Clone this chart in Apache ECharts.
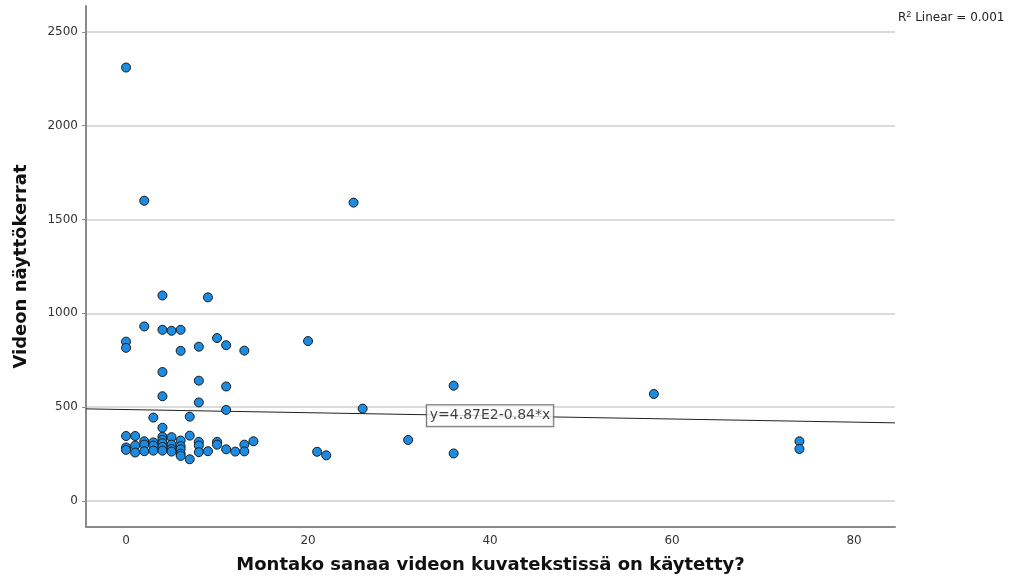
<!DOCTYPE html>
<html>
<head>
<meta charset="utf-8">
<script src="https://cdn.jsdelivr.net/npm/echarts@6/dist/echarts.min.js"></script>
<style>html,body{margin:0;padding:0;background:#fff}#c{width:1015px;height:587px}</style>
</head>
<body>
<div id="c"></div>
<script>
// Words in caption (x) and video views (y)
const wordsX = [
  0, 2, 25, 4, 9, 2, 4, 5, 6, 10, 0, 0, 8, 11, 6, 13, 20,
  4, 8, 11, 4, 8, 11, 26, 36, 58, 31, 36, 21, 22, 74, 74, 3, 7,
  0, 0, 0,
  1, 1, 1,
  2, 2, 2,
  3, 3, 3,
  4, 4, 4, 4, 4, 4,
  5, 5, 5, 5,
  6, 6, 6, 6, 6,
  7, 7,
  8, 8, 8,
  9,
  10, 10,
  11,
  12,
  13, 13,
  14
];
const viewsY = [
  2310, 1600, 1590, 1095, 1085, 930, 912, 907, 912, 868, 849, 816, 822, 830, 800, 801, 852,
  687, 641, 610, 558, 525, 485, 492, 614, 570, 325, 253, 262, 243, 318, 277, 444, 449,
  346, 285, 272,
  346, 295, 258,
  318, 300, 265,
  312, 295, 268,
  390, 342, 325, 308, 288, 268,
  340, 300, 276, 263,
  322, 292, 275, 252, 240,
  348, 222,
  315, 295, 260,
  265,
  315, 300,
  275,
  263,
  300, 264,
  318
];
const yTicks = [0, 500, 1000, 1500, 2000, 2500];
const xTicks = [0, 20, 40, 60, 80];
const fitIntercept = 487;
const fitSlope = -0.84;
const fitLabel = 'y=4.87E2-0.84*x';
const fitLabelX = 40;
const xMin = -4.4, xMax = 84.5, yMin = -139, yMax = 2638;

const pts = wordsX.map((x, i) => [x, viewsY[i]]);
const fitPts = [xMin, xMax].map(x => [x, fitIntercept + fitSlope * x]);

const FONT = '"DejaVu Sans", "Liberation Sans", sans-serif';
const chart = echarts.init(document.getElementById('c'));
chart.setOption({
  animation: false,
  backgroundColor: '#fff',
  textStyle: { fontFamily: FONT },
  grid: { left: 86, right: 120, top: 6, bottom: 60 },
  xAxis: {
    type: 'value', min: xMin, max: xMax,
    name: 'Montako sanaa videon kuvatekstissä on käytetty?',
    nameLocation: 'middle', nameGap: 29,
    nameTextStyle: { fontSize: 18, fontWeight: 'bold', color: '#111', fontFamily: FONT },
    axisLine: { show: true, onZero: false, lineStyle: { color: '#8a8a8a', width: 2 } },
    axisTick: { show: false, customValues: xTicks },
    axisLabel: { customValues: xTicks, color: '#333', fontSize: 12, margin: 8, formatter: v => String(v) },
    splitLine: { show: false }
  },
  yAxis: {
    type: 'value', min: yMin, max: yMax,
    name: 'Videon näyttökerrat',
    nameLocation: 'middle', nameGap: 56,
    nameTextStyle: { fontSize: 18, fontWeight: 'bold', color: '#111', fontFamily: FONT },
    axisLine: { show: true, onZero: false, lineStyle: { color: '#8a8a8a', width: 2 } },
    axisTick: { show: true, customValues: yTicks, length: 4, lineStyle: { color: '#8a8a8a' } },
    axisLabel: { customValues: yTicks, color: '#333', fontSize: 12, margin: 8, formatter: v => String(v) },
    splitLine: { show: true, lineStyle: { color: '#cfcfcf', width: 1.5 } }
  },
  series: [
    {
      type: 'line', data: fitPts, symbol: 'none', silent: true,
      lineStyle: { color: '#222', width: 1 }, z: 3
    },
    {
      type: 'scatter', data: pts, symbolSize: 9,
      itemStyle: { color: '#1c8ce3', borderColor: '#1a1a1a', borderWidth: 1, opacity: 1 },
      z: 4
    },
    {
      type: 'scatter', data: [[fitLabelX, fitIntercept + fitSlope * fitLabelX]],
      symbolSize: 0, z: 5,
      label: {
        show: true, position: 'inside', formatter: fitLabel,
        fontSize: 14, color: '#111', fontFamily: FONT,
        backgroundColor: '#fff', borderColor: '#444', borderWidth: 1,
        padding: [4, 3, 3, 3]
      }
    }
  ],
  graphic: [{
    type: 'text', left: 898, top: 10,
    style: {
      text: 'R{sup|2} Linear = 0.001',
      font: '12px ' + FONT, fill: '#222',
      rich: { sup: { fontSize: 9, verticalAlign: 'top', padding: [0, 0, 7, 0] } }
    }
  }]
});
</script>
</body>
</html>
